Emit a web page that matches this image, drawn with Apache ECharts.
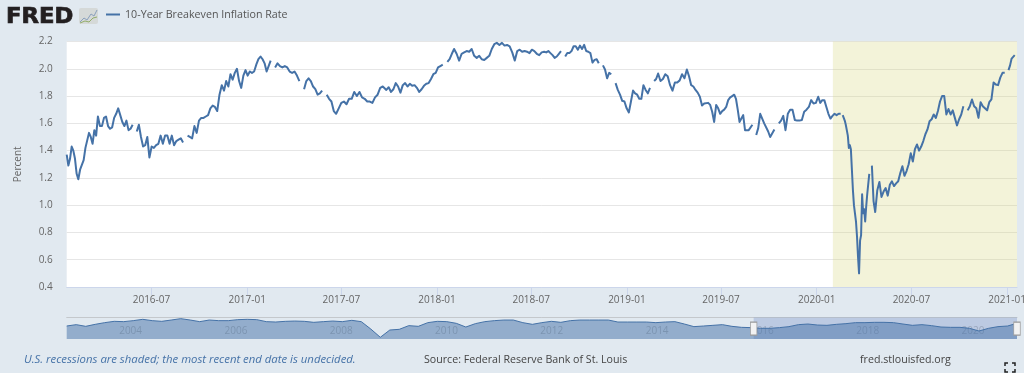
<!DOCTYPE html>
<html><head><meta charset="utf-8">
<style>html,body{margin:0;padding:0;background:#e1e9f0}#c{width:1024px;height:373px}</style>
<script src="https://cdn.jsdelivr.net/npm/echarts@6/dist/echarts.min.js"></script>
</head><body><div id="c"></div>
<script>
const seriesName = '10-Year Breakeven Inflation Rate';
const tickLabels = ['2016-07','2017-01','2017-07','2018-01','2018-07','2019-01','2019-07','2020-01','2020-07','2021-01'];
const overviewYears = ['2004','2006','2008','2010','2012','2014','2016','2018','2020'];
const yTicks = [0.4,2.2,0.2];
const viewStart = '2016-01-20', viewEnd = '2021-01-20';
const overviewStart = '2003-01-02';
const recessionStart = '2020-02-01';

// Values, one run per stretch of time.
const values2016 = [1.37,1.29,1.34,1.43,1.40,1.34,1.23,1.19,1.26,1.25,1.33,1.42,1.43,1.53,1.50,1.45,1.55,1.51,1.65,1.58,1.58,1.64,1.65,1.58,1.56,1.57,1.64,1.67,1.71,1.66,1.61,1.58,1.62,1.55,1.56,1.59,null,1.54,1.59,1.50,1.43,1.44,1.50,1.35,1.43,1.42,1.44,1.45,1.51,1.45,1.51,1.51,1.45,1.51,1.44,1.47,1.48,1.49,1.46,null,1.51,1.50,1.49,1.58,1.53,1.62,1.64,1.64,1.65,1.66,1.71,1.73,1.72,1.69,1.81,1.88];
const values2017 = [1.84,1.91,1.87,1.96,1.92,1.97,2.00,1.91,1.86,1.95,1.99,1.95,1.98,1.97,1.98,2.03,2.07,2.09,2.07,2.04,1.98,2.02,2.06,null,2.01,2.04,2.02,2.01,2.02,2.01,1.98,1.97,1.98,1.95,1.91,null,1.85,1.91,1.93,1.91,1.87,1.85,1.81,1.82,1.84,null,1.81,1.78,1.76,1.69,1.67,1.71,1.75,1.76,1.74,1.78,1.78,1.83,1.80,1.83,1.79,1.78,1.76,1.76,1.75,1.79,1.81,1.86,1.87];
const values2018 = [1.87,1.845,1.865,1.83,1.85,1.895,1.87,1.825,1.88,1.895,1.87,1.89,1.875,1.88,1.86,1.83,1.85,1.875,1.89,1.895,1.925,1.96,1.97,2.01,2.02,2.03,null,2.05,2.07,2.11,2.145,2.11,2.06,2.11,2.12,2.13,2.125,2.145,2.095,2.08,2.095,2.07,2.065,2.08,2.095,2.145,2.18,2.19,2.175,2.19,2.17,2.175,2.165,2.12,2.06,2.13,2.14,2.125,2.13,2.125,2.115,2.14,2.13,2.11,2.10,2.12];
const values2019 = [2.125,2.12,2.13,2.115,2.10,2.08,2.09,2.11,2.13,null,2.09,2.115,2.115,2.13,2.165,2.165,2.14,2.17,2.145,2.175,2.13,2.125,2.115,2.045,2.065,2.07,2.04,null,2.025,1.995,1.93,1.97,1.96,null,1.895,1.845,1.81,1.765,1.76,1.71,1.68,1.76,1.84,1.82,1.81,1.78,1.78,1.88,1.845,1.82,1.86,null,1.91,1.925,1.965,1.91,1.925,1.96,1.945,1.88,1.84,1.90,1.90,1.915,1.96,1.93,1.995,1.945,1.88,1.87,1.845,1.825,1.795,1.73];
const values2019b = [1.745,1.74,1.75,1.735,1.685,1.61,1.735,1.71,1.67,1.69,1.70,1.72,1.77,1.79,1.80,1.81,1.78,1.70,1.61,1.635,1.66,1.55,1.54,1.55,1.54,1.59,null,1.515,1.565,1.67,1.67,1.60,1.61,1.54,1.50,1.49,1.555,null,1.60,1.62,1.655,1.55,1.67,1.70,1.70,1.625,1.62,1.62,1.625,1.685,1.70,1.72,1.77,1.745,1.75,1.795,1.75,1.77,1.77,1.72,1.67,1.635,1.655,1.67,1.66,1.67];
const valuesCrash = [1.67,null,1.66,1.65,1.62,1.59,1.55,1.51,1.42,1.44,1.41,1.26,1.11,1.00,0.94,0.88,0.77,0.62,0.50,0.74,0.78,1.08,0.94,0.97,0.88,0.99,1.08];
const valuesRecovery = [1.23,null,1.29,1.03,0.95,1.11,1.17,1.06,1.10,1.125,1.07,1.15,1.175,1.14,1.16,1.175,1.235,1.285,1.215,1.25,1.30,1.38,1.32,1.41,1.445,1.40,1.43,1.47,1.52,1.555,1.615,1.63,1.665,1.64,1.69,1.76,1.80,1.80,1.665,1.705,1.665,1.695,1.64,1.585,1.63,1.665,1.725,null,1.695,1.725,1.775,1.725,1.71,1.64,1.755,1.725,1.71,1.695,1.755,1.775,1.90,1.885,1.88,1.935,1.97,1.97,null,1.99,2.025,2.075,2.07,2.10];
const overviewValues = [1.69,1.87,1.65,1.91,2.13,2.30,2.26,2.39,2.56,2.39,2.30,2.47,2.65,2.47,2.26,2.47,2.39,2.39,2.52,2.56,2.52,2.26,2.21,2.30,2.34,2.30,2.17,2.26,2.34,2.26,2.43,2.26,1.30,0.22,1.17,1.26,1.74,1.65,2.13,2.30,2.26,2.04,1.56,2.00,2.26,2.39,2.47,2.47,2.13,1.91,2.13,2.30,2.17,2.39,2.47,2.47,2.47,2.47,2.21,2.21,2.21,2.21,2.13,2.21,2.26,1.95,1.61,1.69,1.78,1.87,1.65,1.52,1.48,1.39,1.39,1.48,1.61,1.87,1.95,1.82,1.78,1.91,2.00,2.13,2.13,2.17,2.17,2.13,1.95,1.78,1.87,1.74,1.56,1.52,1.52,1.39,1.04,1.39,1.61,1.69,2.04];

// When each run's turning points happen: [index into its values, days after viewStart].
const days2016 = [[0,0],[7,22.3],[18,60],[28,99],[37,134.7],[43,159],[59,228],[76,302.5]];
const days2017 = [[0,302.5],[17,372.7],[23,396],[35,452],[45,495.4],[50,518],[68,607.7],[69,610]];
const days2018 = [[0,610],[26,727.5],[30,744.8],[47,826.9],[54,861.5],[66,917.9]];
const days2019 = [[0,917.9],[19,994.8],[27,1026.9],[33,1051],[40,1080.8],[47,1108.8],[51,1125.6],[54,1137],[66,1192.3],[74,1225.6]];
const days2019b = [[0,1225.6],[5,1244.8],[15,1283.3],[18,1293.5],[26,1321.8],[29,1333.3],[35,1356.3],[41,1381.9],[55,1444.8],[66,1488]];
const daysCrash = [[0,1488],[27,1541]];
const daysRecovery = [[0,1543],[2,1548],[4,1554.4],[36,1683],[47,1728],[60,1782],[66,1807.7],[72,1825.6]];

const DAY = 86400000;
const ms = s => Date.parse(s + 'T00:00:00Z');
function place(vals, anchors) {
  const t0 = ms(viewStart);
  let k = 0;
  return vals.map((v, i) => {
    while (k < anchors.length - 2 && i >= anchors[k + 1][0]) k++;
    const [i0, d0] = anchors[k], [i1, d1] = anchors[k + 1];
    return [t0 + (d0 + (d1 - d0) * (i - i0) / (i1 - i0)) * DAY, v];
  });
}
const mainData = [].concat(
  place(values2016, days2016),
  place(values2017, days2017),
  place(values2018, days2018),
  place(values2019, days2019),
  place(values2019b, days2019b),
  place(valuesCrash, daysCrash),
  place(valuesRecovery, daysRecovery)
);
const overviewStep = (ms(viewEnd) - ms(overviewStart)) / (overviewValues.length - 1);
const overviewData = overviewValues.map((v, i) => [ms(overviewStart) + i * overviewStep, v]);
const pad = n => String(n).padStart(2, '0');
const fmtMonth = v => { const d = new Date(v); return d.getUTCFullYear() + '-' + pad(d.getUTCMonth() + 1); };
const textFont = '"Open Sans", sans-serif';
const handle = date => ({
  coord: [ms(date), 1.35], symbol: 'rect', symbolSize: [6.5, 13],
  itemStyle: { color: '#f2f2f2', borderColor: '#999', borderWidth: 1 }, label: { show: false }
});

const chart = echarts.init(document.getElementById('c'), null, { renderer: 'canvas' });
chart.setOption({
  animation: false,
  backgroundColor: '#e1e9f0',
  textStyle: { fontFamily: textFont },
  legend: {
    left: 101, top: 4, itemWidth: 14, itemHeight: 2, icon: 'rect', selectedMode: false,
    data: [seriesName],
    textStyle: { color: '#555', fontSize: 10.7, fontFamily: textFont, fontWeight: 400 }
  },
  grid: [
    { left: 66.7, right: 7, top: 41.5, bottom: 86, show: true, backgroundColor: '#fff', borderWidth: 0, outerBoundsMode: 'none' },
    { left: 66.7, right: 7, top: 317.5, height: 21.5, show: false, outerBoundsMode: 'none' }
  ],
  xAxis: [
    { type: 'value', gridIndex: 0, min: ms(viewStart), max: ms(viewEnd), scale: true,
      axisLine: { show: true, onZero: false, lineStyle: { color: '#ccd6eb' } },
      axisTick: { show: true, length: 8, lineStyle: { color: '#ccd6eb' }, customValues: tickLabels.map(t => ms(t + '-01')) },
      axisLabel: { color: '#666', fontSize: 10, margin: 8, fontFamily: textFont, hideOverlap: false,
        customValues: tickLabels.map(t => ms(t + '-01')), formatter: v => fmtMonth(v) },
      splitLine: { show: false } },
    { type: 'value', gridIndex: 1, position: 'top', min: ms(overviewStart), max: ms(viewEnd), scale: true,
      axisLine: { show: true, onZero: false, lineStyle: { color: '#c4c8cc' } },
      axisTick: { show: false },
      axisLabel: { inside: true, color: 'rgba(100,100,100,0.38)', fontSize: 10, margin: 9, align: 'left', fontFamily: textFont, hideOverlap: false,
        customValues: overviewYears.map(y => ms(y + '-01-01')), formatter: v => String(new Date(v).getUTCFullYear()) },
      splitLine: { show: false } }
  ],
  yAxis: [
    { type: 'value', gridIndex: 0, min: yTicks[0], max: yTicks[1], interval: yTicks[2],
      name: 'Percent', nameLocation: 'middle', nameGap: 44, nameRotate: 90,
      nameTextStyle: { color: '#666', fontSize: 10, fontFamily: textFont },
      axisLine: { show: false }, axisTick: { show: false },
      axisLabel: { color: '#666', fontSize: 10, margin: 14, fontFamily: textFont, formatter: v => v.toFixed(1) },
      splitLine: { show: true, lineStyle: { color: '#e6e6e6' } } },
    { type: 'value', gridIndex: 1, min: 0, max: 2.8, show: false, splitLine: { show: false } }
  ],
  series: [
    { name: seriesName, type: 'line', xAxisIndex: 0, yAxisIndex: 0, data: mainData, showSymbol: false, symbol: 'none',
      connectNulls: false, lineStyle: { color: '#4572a7', width: 2, join: 'round' }, itemStyle: { color: '#4572a7' }, z: 3,
      markArea: { silent: true, itemStyle: { color: 'rgba(216,216,130,0.3)' },
        data: [[{ xAxis: ms(recessionStart) }, { xAxis: ms(viewEnd) }]] } },
    { name: 'Navigator', type: 'line', xAxisIndex: 1, yAxisIndex: 1, data: overviewData, showSymbol: false, symbol: 'none',
      lineStyle: { color: '#4572a7', width: 1 }, itemStyle: { color: '#4572a7' },
      areaStyle: { color: '#4572a7', opacity: 0.5 }, z: 3,
      markArea: { silent: true, itemStyle: { color: '#6685c2', opacity: 0.3 },
        data: [[{ xAxis: ms(viewStart) }, { xAxis: ms(viewEnd) }]] },
      markPoint: { silent: true, data: [handle(viewStart), handle(viewEnd)] } }
  ],
  graphic: [
    { type: 'text', x: 6, y: 7, scaleX: 1.08, style: { text: 'FRED', fill: '#231f20', stroke: '#231f20', lineWidth: 0.7, font: 'bold 21px "DejaVu Sans", sans-serif' } },
    { type: 'rect', shape: { x: 79, y: 8, width: 19, height: 16, r: 2 }, style: { fill: '#d5d9d8' } },
    { type: 'polyline', shape: { points: [[80,22],[84,18],[87,20],[91,14],[94,16],[97,10]] }, style: { stroke: '#8aa0bd', fill: 'none', lineWidth: 1 } },
    { type: 'polyline', shape: { points: [[80,23],[85,21],[89,22],[93,18],[97,17]] }, style: { stroke: '#93ad6b', fill: 'none', lineWidth: 1 } },
    { type: 'text', left: 24, top: 354, style: { text: 'U.S. recessions are shaded; the most recent end date is undecided.', fill: '#4572a7', font: 'italic 11.35px "Open Sans", sans-serif' } },
    { type: 'text', left: 424, top: 354, style: { text: 'Source: Federal Reserve Bank of St. Louis', fill: '#444', font: '10.65px "Open Sans", sans-serif' } },
    { type: 'text', left: 860, top: 354, style: { text: 'fred.stlouisfed.org', fill: '#444', font: '10.65px "Open Sans", sans-serif' } },
    { type: 'polyline', shape: { points: [[1005,366],[1005,363],[1008,363]] }, style: { stroke: '#222', fill: 'none', lineWidth: 1.5 } },
    { type: 'polyline', shape: { points: [[1012,363],[1015,363],[1015,366]] }, style: { stroke: '#222', fill: 'none', lineWidth: 1.5 } },
    { type: 'polyline', shape: { points: [[1005,369],[1005,372],[1008,372]] }, style: { stroke: '#222', fill: 'none', lineWidth: 1.5 } },
    { type: 'polyline', shape: { points: [[1012,372],[1015,372],[1015,369]] }, style: { stroke: '#222', fill: 'none', lineWidth: 1.5 } }
  ]
});
</script></body></html>
